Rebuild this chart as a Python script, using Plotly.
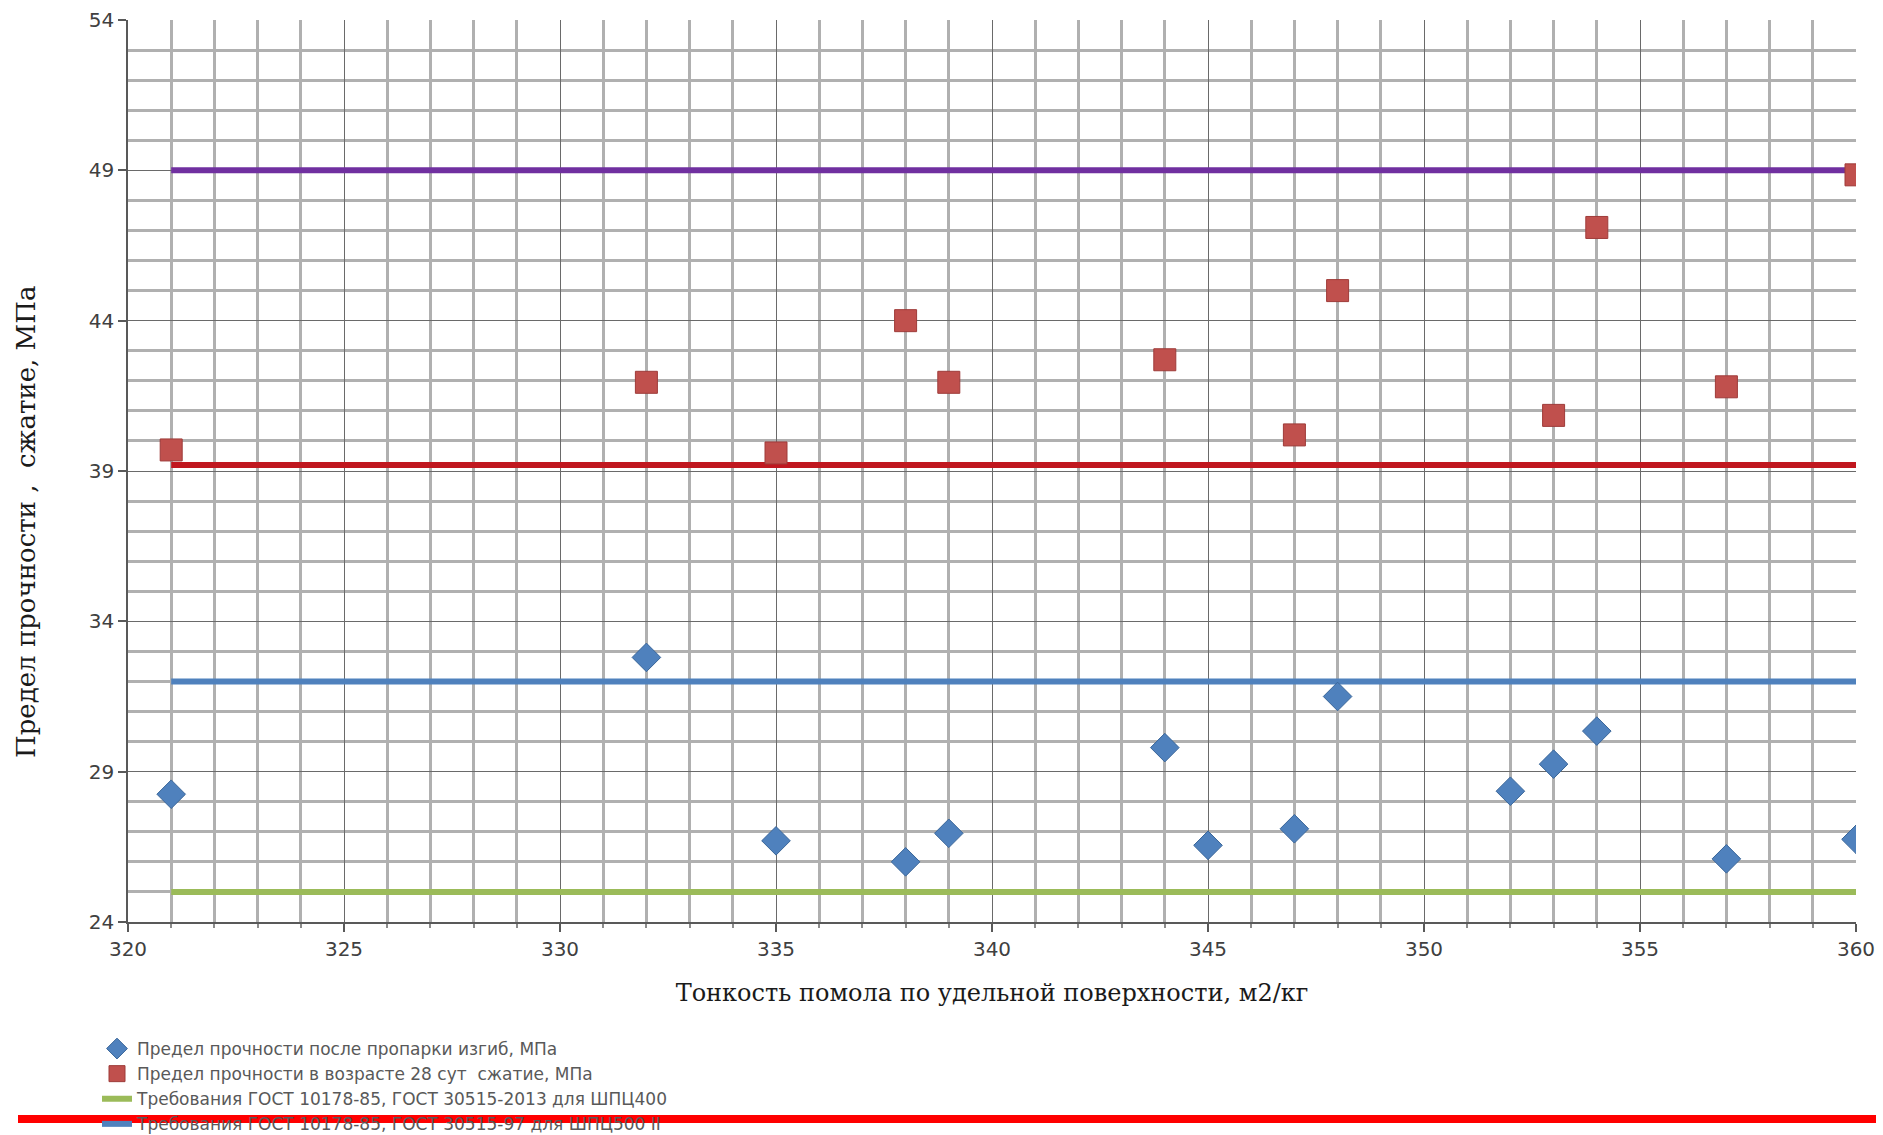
import plotly.graph_objects as go

# ---- data ----
x_bend = [321, 332, 335, 338, 339, 344, 345, 347, 348, 352, 353, 354, 357, 360]
y_bend = [28.25, 32.8, 26.7, 26.0, 26.95, 29.8, 26.55, 27.1, 31.5, 28.35, 29.25, 30.35, 26.1, 26.75]

x_comp = [321, 332, 335, 338, 339, 344, 347, 348, 353, 354, 357, 360]
y_comp = [39.7, 41.95, 39.6, 44.0, 41.95, 42.7, 40.2, 45.0, 40.85, 47.1, 41.8, 48.85]

line_x = [321, 360]
req_green = 25.0
req_blue = 32.0
req_red = 39.2
req_purple = 49.0

names = [
    "Предел прочности после пропарки изгиб, МПа",
    "Предел прочности в возрасте 28 сут  сжатие, МПа",
    "Требования ГОСТ 10178-85, ГОСТ 30515-2013 для ШПЦ400",
    "Требования ГОСТ 10178-85, ГОСТ 30515-97 для ШПЦ500 II",
    "Требования ГОСТ 10178-85, ГОСТ 30515-97 для ШПЦ400 (сжатие)",
    "Требования ГОСТ 10178-85, ГОСТ 30515-97 для ШПЦ500 (сжатие)",
]

x_title = "Тонкость помола по удельной поверхности, м2/кг"
y_title = "Предел прочности ,  сжатие, МПа"

W, H = 1883, 1135
ML, MR, MT, MB = 128, W - 1856, 20, H - 922
PW, PH = W - ML - MR, H - MT - MB

fig = go.Figure()

fig.add_trace(go.Scatter(x=line_x, y=[req_purple] * 2, mode="lines",
                         line=dict(color="#7030A0", width=6), name=names[5], showlegend=False))
fig.add_trace(go.Scatter(x=line_x, y=[req_red] * 2, mode="lines",
                         line=dict(color="#C0171F", width=6), name=names[4], showlegend=False))
fig.add_trace(go.Scatter(x=line_x, y=[req_blue] * 2, mode="lines",
                         line=dict(color="#4F81BD", width=6), name=names[3], legendrank=4))
fig.add_trace(go.Scatter(x=line_x, y=[req_green] * 2, mode="lines",
                         line=dict(color="#9BBB59", width=6), name=names[2], legendrank=3))
fig.add_trace(go.Scatter(x=x_bend, y=y_bend, mode="markers", name=names[0], legendrank=1,
                         marker=dict(symbol="diamond", size=22, color="#4F81BD",
                                     line=dict(color="#3A6699", width=1))))
fig.add_trace(go.Scatter(x=x_comp, y=y_comp, mode="markers", name=names[1], legendrank=2,
                         marker=dict(symbol="square", size=22, color="#C0504D",
                                     line=dict(color="#9E3B39", width=1))))


def px_to_paper_x(px):
    return (px - ML) / PW


def px_to_paper_y(py):
    return (H - MB - py) / PH


# red bar at the bottom of the reference picture
fig.add_shape(type="line", xref="paper", yref="paper",
              x0=px_to_paper_x(18), x1=px_to_paper_x(1876),
              y0=px_to_paper_y(1119), y1=px_to_paper_y(1119),
              line=dict(color="#FF0000", width=8), layer="above")

# y-axis title (placed as in the reference, slightly below plot centre)
fig.add_annotation(text=y_title, xref="paper", yref="paper",
                   x=px_to_paper_x(26), y=px_to_paper_y(522),
                   xanchor="center", yanchor="middle", textangle=-90, showarrow=False,
                   font=dict(family="DejaVu Serif", size=26, color="#1a1a1a"))

axis_common = dict(
    showline=True, linecolor="#595959", linewidth=1.5,
    showgrid=True, gridcolor="#6A6A6A", gridwidth=1,
    ticks="outside", ticklen=8, tickcolor="#595959", tickwidth=1.5,
    tickfont=dict(family="DejaVu Sans", size=20, color="#404040"),
    zeroline=False, mirror=False,
)

fig.update_xaxes(range=[320, 360], tick0=320, dtick=5,
                 minor=dict(dtick=1, showgrid=True, gridcolor="#B0B0B0", gridwidth=2.5,
                            ticks="outside", ticklen=4, tickcolor="#8C8C8C"),
                 title=dict(text=x_title, standoff=24,
                            font=dict(family="DejaVu Serif", size=24, color="#1a1a1a")),
                 **axis_common)
fig.update_yaxes(range=[24, 54], tick0=24, dtick=5,
                 minor=dict(dtick=1, showgrid=True, gridcolor="#B0B0B0", gridwidth=2.5),
                 **axis_common)

fig.update_layout(
    width=W, height=H,
    margin=dict(l=ML, r=MR, t=MT, b=MB, autoexpand=False),
    paper_bgcolor="white", plot_bgcolor="white",
    showlegend=True,
    legend=dict(x=px_to_paper_x(97), y=px_to_paper_y(1031), xanchor="left", yanchor="top",
                orientation="v", itemwidth=30, tracegroupgap=0,
                font=dict(family="DejaVu Sans", size=17, color="#595959"),
                bgcolor="rgba(0,0,0,0)"),
)

fig.write_html("out.html", config={"displayModeBar": False},
               post_script="document.body.style.margin='0';document.body.style.overflow='hidden';")
